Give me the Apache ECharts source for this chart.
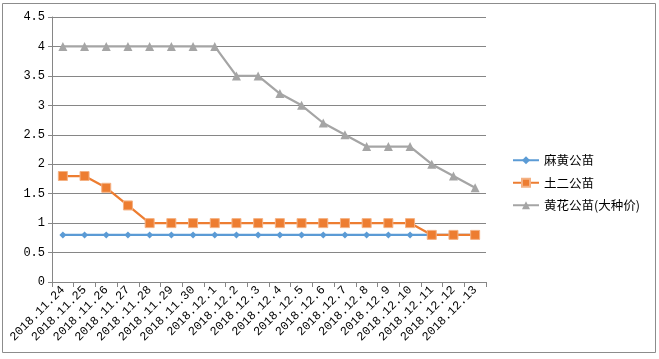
<!DOCTYPE html>
<html><head><meta charset="utf-8">
<script src="https://cdn.jsdelivr.net/npm/echarts@6/dist/echarts.min.js"></script>
<style>html,body{margin:0;padding:0;background:#fff}#c{width:659px;height:359px}</style>
</head><body><div id="c"></div>
<script>
var categories = ["2018.11.24","2018.11.25","2018.11.26","2018.11.27","2018.11.28","2018.11.29","2018.11.30","2018.12.1","2018.12.2","2018.12.3","2018.12.4","2018.12.5","2018.12.6","2018.12.7","2018.12.8","2018.12.9","2018.12.10","2018.12.11","2018.12.12","2018.12.13"];
var mahuang = [0.8,0.8,0.8,0.8,0.8,0.8,0.8,0.8,0.8,0.8,0.8,0.8,0.8,0.8,0.8,0.8,0.8,0.8,0.8,0.8];
var tuer = [1.8,1.8,1.6,1.3,1.0,1.0,1.0,1.0,1.0,1.0,1.0,1.0,1.0,1.0,1.0,1.0,1.0,0.8,0.8,0.8];
var huanghua = [4,4,4,4,4,4,4,4,3.5,3.5,3.2,3.0,2.7,2.5,2.3,2.3,2.3,2.0,1.8,1.6];
var seriesNames = ["麻黄公苗","土二公苗","黄花公苗(大种价)"];
var yTicks = {min:0, max:4.5, interval:0.5};

var chart = echarts.init(document.getElementById('c'));
var mono = '"Liberation Mono","DejaVu Sans Mono",monospace';
chart.setOption({
  animation:false,
  backgroundColor:'#fff',
  graphic:[{type:'rect', shape:{x:2.5,y:3.5,width:653,height:349}, style:{fill:'none', stroke:'#8c8c8c', lineWidth:1}, silent:true}],
  grid:{left:52, top:17, right:173, bottom:77, containLabel:false},
  legend:{
    orient:'vertical', left:507, top:149, itemWidth:26, itemHeight:10, itemGap:10,
    textStyle:{fontFamily:'"Noto Sans CJK SC",sans-serif', fontSize:12.5, color:'#000'},
    data:seriesNames
  },
  xAxis:{
    type:'category', data:categories, boundaryGap:true,
    axisLine:{lineStyle:{color:'#868686', width:1}},
    axisTick:{show:true, length:5, lineStyle:{color:'#868686'}},
    axisLabel:{rotate:45, interval:0, fontFamily:mono, fontSize:12, color:'#000', margin:6}
  },
  yAxis:{
    type:'value', min:yTicks.min, max:yTicks.max, interval:yTicks.interval,
    axisLine:{show:true, lineStyle:{color:'#868686', width:1}},
    axisTick:{show:true, length:4, lineStyle:{color:'#868686'}},
    splitLine:{lineStyle:{color:'#868686', width:1}},
    axisLabel:{fontFamily:mono, fontSize:12, color:'#000', margin:7}
  },
  series:[
    {name:seriesNames[0], type:'line', data:mahuang, symbol:'diamond', symbolSize:7,
     lineStyle:{color:'#5B9BD5', width:2.25}, itemStyle:{color:'#5B9BD5'}, z:2},
    {name:seriesNames[1], type:'line', data:tuer, symbol:'rect', symbolSize:9,
     lineStyle:{color:'#ED7D31', width:2.25}, itemStyle:{color:'#ED7D31', borderColor:'#F4B183', borderWidth:1}, z:3},
    {name:seriesNames[2], type:'line', data:huanghua, symbol:'triangle', symbolSize:9,
     lineStyle:{color:'#A5A5A5', width:2.25}, itemStyle:{color:'#A5A5A5'}, z:4}
  ]
});
</script></body></html>
